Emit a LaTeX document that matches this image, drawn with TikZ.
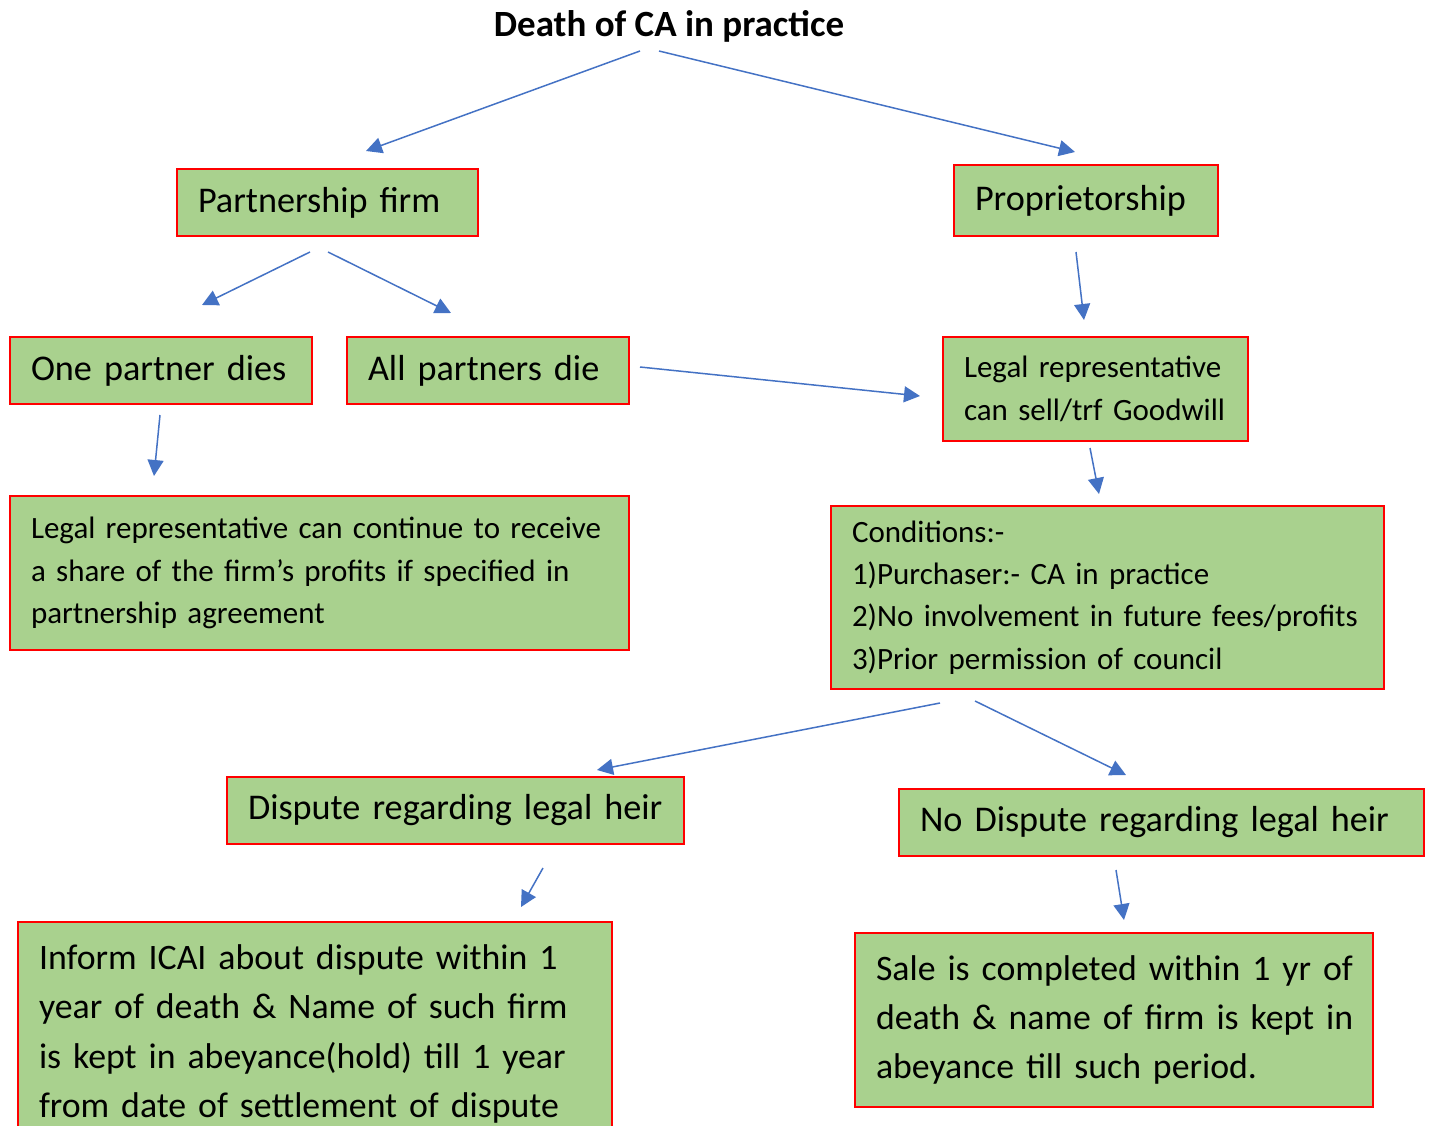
\documentclass[tikz,border=0pt]{standalone}
\usepackage{fontspec}
\setmainfont{Carlito}
\usetikzlibrary{arrows.meta}
\definecolor{boxfill}{HTML}{A9D18E}
\definecolor{boxline}{HTML}{FF0000}
\definecolor{arrowblue}{HTML}{4472C4}

% one unbreakable line of box text
\newcommand{\boxline}[1]{\mbox{#1}}

\tikzset{
  box/.style={draw=boxline, fill=boxfill, line width=2pt, anchor=north west,
    inner xsep=21pt, inner ysep=0pt, align=left, text=black},
  bigtext/.style={font=\fontsize{36.2}{44}\selectfont},
  midtext/.style={font=\fontsize{35.8}{49.3}\selectfont},
  smalltext/.style={font=\fontsize{31}{42.3}\selectfont},
  flow/.style={draw=arrowblue, line width=1.5pt, -{Triangle[length=16pt,width=16pt]}},
}

\begin{document}
\begin{tikzpicture}[x=1pt,y=-1pt]
\useasboundingbox (0,0) rectangle (1429,1126);
\clip (0,0) rectangle (1429,1126);

% title
\node[font=\fontsize{37}{42}\selectfont\bfseries] (title) at (669,26) {Death of CA in practice};

% boxes
\node[box, bigtext, minimum height=67pt, text width=259pt] (pf) at (176,168)
  {\boxline{Partnership firm}};
\node[box, bigtext, minimum height=71pt, text width=222pt] (prop) at (953,164)
  {\boxline{Proprietorship}};
\node[box, bigtext, minimum height=67pt, text width=260pt] (one) at (9,336)
  {\boxline{One partner dies}};
\node[box, bigtext, minimum height=67pt, text width=240pt] (all) at (346,336)
  {\boxline{All partners die}};
\node[box, smalltext, minimum height=104pt, text width=263pt] (sell) at (942,336)
  {\boxline{Legal representative}\\\boxline{can sell/trf Goodwill}};
\node[box, smalltext, minimum height=154pt, text width=577pt] (share) at (9,495)
  {\boxline{Legal representative can continue to receive}\\
   \boxline{a share of the firm’s profits if specified in}\\
   \boxline{partnership agreement}};
\node[box, smalltext, minimum height=183pt, text width=511pt] (cond) at (830,505)
  {\boxline{Conditions:-}\\
   \boxline{1)Purchaser:- CA in practice}\\
   \boxline{2)No involvement in future fees/profits}\\
   \boxline{3)Prior permission of council}};
\node[box, bigtext, minimum height=67pt, text width=415pt] (disp) at (226,776)
  {\boxline{Dispute regarding legal heir}};
\node[box, bigtext, minimum height=67pt, text width=483pt] (nodisp) at (898,788)
  {\boxline{No Dispute regarding legal heir}};
\node[box, midtext, minimum height=224pt, text width=552pt] (inform) at (17,921)
  {\boxline{Inform ICAI about dispute within 1}\\
   \boxline{year of death \& Name of such firm}\\
   \boxline{is kept in abeyance(hold) till 1 year}\\
   \boxline{from date of settlement of dispute}};
\node[box, midtext, minimum height=174pt, text width=476pt] (sale) at (854,932)
  {\boxline{Sale is completed within 1 yr of}\\
   \boxline{death \& name of firm is kept in}\\
   \boxline{abeyance till such period.}};

% connector end points
\coordinate (t1) at (640,51);   \coordinate (h1) at (366,151);
\coordinate (t2) at (659,51);   \coordinate (h2) at (1075,152);
\coordinate (t3) at (310,252);  \coordinate (h3) at (202,305);
\coordinate (t4) at (328,252);  \coordinate (h4) at (451,313);
\coordinate (t5) at (1076,252); \coordinate (h5) at (1084,320);
\coordinate (t6) at (160,415);  \coordinate (h6) at (154,476);
\coordinate (t7) at (640,367);  \coordinate (h7) at (920,396);
\coordinate (t8) at (1090,448); \coordinate (h8) at (1099,494);
\coordinate (t9) at (940,703);  \coordinate (h9) at (597,770);
\coordinate (t10) at (975,701); \coordinate (h10) at (1126,775);
\coordinate (t11) at (543,868); \coordinate (h11) at (521,907);
\coordinate (t12) at (1116,870);\coordinate (h12) at (1124,920);

% connectors
\foreach \i in {1,...,12} \draw[flow] (t\i) -- (h\i);
\end{tikzpicture}
\end{document}
